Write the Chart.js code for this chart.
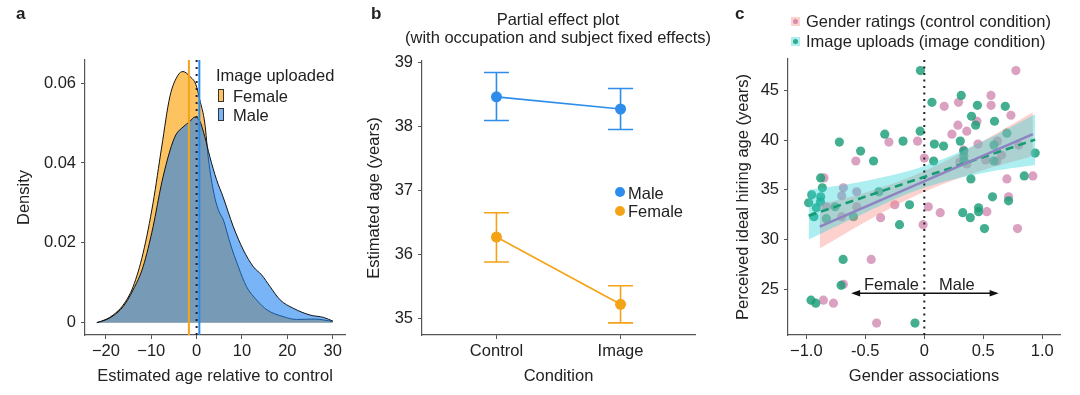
<!DOCTYPE html>
<html>
<head>
<meta charset="utf-8">
<script src="https://cdn.jsdelivr.net/npm/chart.js@4.4.1/dist/chart.umd.min.js"></script>
<style>
  body { margin: 0; background: #fff; }
  #wrap { position: relative; width: 1080px; height: 395px; overflow: hidden;
          font-family: 'Liberation Sans', Arial, Helvetica, sans-serif; color: #222; }
  canvas { position: absolute; top: 0; }
  .t { position: absolute; font-size: 16.5px; line-height: 20px; white-space: nowrap; }
  .panel { position: absolute; font-size: 17px; font-weight: bold; line-height: 20px; }
  .key { position: absolute; box-sizing: border-box; }
  .dot { position: absolute; border-radius: 50%; }
</style>
</head>
<body>
<div id="wrap">
  <canvas id="densityChart" width="360" height="395" style="left:0"></canvas>
  <canvas id="effectChart" width="360" height="395" style="left:360px"></canvas>
  <canvas id="scatterChart" width="360" height="395" style="left:720px"></canvas>

  <div class="panel" style="left:16px;top:4px">a</div>
  <div class="panel" style="left:371px;top:4px">b</div>
  <div class="panel" style="left:735px;top:4px">c</div>

  <!-- panel a legend -->
  <div class="t" style="left:216px;top:65px">Image uploaded</div>
  <div class="key" style="left:218px;top:89px;width:6px;height:13px;background:rgba(252,172,35,0.72);border:1px solid #333"></div>
  <div class="t" style="left:233px;top:86px">Female</div>
  <div class="key" style="left:218px;top:108px;width:6px;height:13px;background:rgba(30,130,240,0.6);border:1px solid #333"></div>
  <div class="t" style="left:233px;top:105px">Male</div>

  <!-- panel b title + legend -->
  <div class="t" style="left:358px;top:9px;width:400px;text-align:center">Partial effect plot</div>
  <div class="t" style="left:358px;top:27px;width:400px;text-align:center">(with occupation and subject fixed effects)</div>
  <div class="dot" style="left:615px;top:187px;width:10px;height:10px;background:#2E8DEB"></div>
  <div class="t" style="left:628px;top:182.5px">Male</div>
  <div class="dot" style="left:615px;top:205.5px;width:10px;height:10px;background:#F5A316"></div>
  <div class="t" style="left:628px;top:201px">Female</div>

  <!-- panel c legend + annotations -->
  <div class="key" style="left:791px;top:17px;width:9px;height:9px;background:rgba(250,140,130,0.4)"></div>
  <div class="dot" style="left:793px;top:19px;width:5px;height:5px;background:rgba(204,121,167,0.8)"></div>
  <div class="t" style="left:806px;top:11px">Gender ratings (control condition)</div>
  <div class="key" style="left:791px;top:37px;width:9px;height:9px;background:rgba(40,210,215,0.38)"></div>
  <div class="dot" style="left:793px;top:39px;width:5px;height:5px;background:rgba(27,158,119,0.85)"></div>
  <div class="t" style="left:806px;top:31px">Image uploads (image condition)</div>
  <div class="t" style="left:864px;top:273.5px">Female</div>
  <div class="t" style="left:939px;top:273.5px">Male</div>
</div>

<script>
// ---------- panel a: density of estimated age relative to control ----------
const femaleDensityX = [-22, -20, -18.4, -16.2, -14, -11.8, -9.6, -7.7, -5.9, -4.1, -3.0, -1.5, -0.15, 0.7, 1.8, 2.6, 3.8, 4.8, 5.9, 7.35, 9.2, 11, 13.2, 15.5, 19.1, 22, 26, 30];
const femaleDensityY = [0, 0.0008, 0.0019, 0.0044, 0.009, 0.0174, 0.030, 0.044, 0.0566, 0.062, 0.0629, 0.0617, 0.0596, 0.0558, 0.050, 0.041, 0.0324, 0.0282, 0.0257, 0.020, 0.014, 0.009, 0.0057, 0.0032, 0.0015, 0.0008, 0.0009, 0.0003];
const maleDensityX = [-22, -20, -18.4, -16.2, -14, -11.8, -9.6, -7.7, -5.9, -4.6, -3.0, -1.5, -0.4, 0.7, 1.8, 2.9, 4.4, 5.8, 8.1, 10.3, 12.5, 14.3, 16.2, 18.4, 21.3, 25, 28, 30];
const maleDensityY = [0, 0.0007, 0.0017, 0.004, 0.0082, 0.014, 0.024, 0.035, 0.043, 0.047, 0.049, 0.0504, 0.0515, 0.0505, 0.0466, 0.0416, 0.0358, 0.0316, 0.024, 0.0182, 0.014, 0.012, 0.009, 0.0057, 0.0036, 0.0019, 0.0013, 0.0004];
const femaleMeanShift = -1.7;
const maleMeanShift = 0.6;
const densityTicksX = [-20, -10, 0, 10, 20, 30];
const densityLabelsX = ['\u221220', '\u221210', '0', '10', '20', '30'];
const densityTicksY = [0, 0.02, 0.04, 0.06];
const densityLabelsY = ['0', '0.02', '0.04', '0.06'];
const densityRangeX = [-24.6, 32.7];
const densityRangeY = [-0.0031, 0.0658];

// ---------- panel b: partial effect plot ----------
const conditionTicks = [1, 2];
const conditions = ['Control', 'Image'];
const maleEstimate = [38.46, 38.27];
const maleLower = [38.09, 37.95];
const maleUpper = [38.84, 38.59];
const femaleEstimate = [36.27, 35.22];
const femaleLower = [35.88, 34.93];
const femaleUpper = [36.65, 35.51];
const ageTicks = [35, 36, 37, 38, 39];
const ageLabels = ['35', '36', '37', '38', '39'];

// ---------- panel c: gender associations vs ideal hiring age ----------
const controlX = [0.776, 0.565, 0.566, 0.29, 0.169, 0.285, 0.36, 0.446, 0.234, 0.734, -0.057, -0.30, -0.58, 0.0, -0.85, -0.686, -0.573, -0.573, -0.70, -0.70, -0.83, -0.25, -0.37, 0.034, -0.01, 0.135, 0.53, 0.79, 0.70, 0.92, 0.714, -0.45, -0.686, -0.855, -0.77, -0.404, 0.333, 0.36, 0.455, 0.52, 0.62, 0.655, 0.80, 0.615, 0.30];
const controlY = [47.0, 44.5, 43.5, 43.8, 43.4, 41.5, 40.9, 41.9, 40.6, 42.5, 39.9, 39.8, 37.9, 38.2, 36.2, 35.2, 34.8, 33.3, 34.4, 32.3, 33.3, 33.5, 32.2, 33.3, 31.5, 32.7, 32.8, 31.1, 36.1, 36.4, 34.3, 28.0, 25.5, 23.9, 23.6, 21.6, 39.0, 37.6, 39.6, 38.0, 39.9, 38.5, 39.5, 37.9, 37.8];
const imageX = [-0.033, -0.72, -0.54, -0.335, -0.43, -0.18, -0.035, -0.878, -0.864, -0.954, -0.98, -0.878, -0.88, -0.915, -0.935, -0.83, -0.756, -0.60, -0.385, -0.125, -0.21, -0.688, -0.705, -0.96, -0.92, -0.079, 0.065, 0.313, 0.45, 0.686, 0.40, 0.435, 0.595, 0.085, 0.163, 0.305, 0.70, 0.335, 0.335, 0.337, 0.079, 0.59, 0.59, 0.395, 0.94, 0.847, 0.578, 0.326, 0.46, 0.46, 0.39, 0.51, 0.714];
const imageY = [47.0, 39.8, 38.9, 40.6, 37.9, 39.9, 40.9, 36.2, 35.2, 34.5, 33.7, 34.3, 33.8, 33.2, 32.3, 32.1, 33.3, 32.3, 34.8, 33.5, 31.5, 28.0, 25.4, 23.9, 23.6, 21.6, 43.8, 44.5, 43.5, 43.4, 42.4, 41.5, 41.9, 39.6, 39.4, 39.9, 40.7, 38.9, 38.4, 37.9, 37.9, 39.5, 37.9, 36.1, 38.7, 36.4, 34.3, 32.7, 33.2, 32.8, 32.2, 31.1, 33.9];
const controlFitX = [-0.886, 0.92];
const controlFitY = [31.3, 40.6];
const imageFitX = [-0.98, 0.94];
const imageFitY = [32.4, 40.05];
const controlBandX = [-0.886, -0.45, 0, 0.45, 0.92];
const controlBandLow = [29.1, 32.1, 34.8, 36.8, 38.4];
const controlBandHigh = [33.5, 34.9, 36.9, 39.6, 42.8];
const imageBandX = [-0.98, -0.5, 0, 0.5, 0.94];
const imageBandLow = [30.0, 32.7, 35.2, 36.7, 37.5];
const imageBandHigh = [35.0, 35.9, 37.4, 39.9, 42.6];
const arrowSpan = [-0.62, 0.63];
const arrowLevel = 24.6;
const genderTicks = [-1, -0.5, 0, 0.5, 1];
const genderLabels = ['\u22121.0', '-0.5', '0', '0.5', '1.0'];
const hiringTicks = [25, 30, 35, 40, 45];
const hiringLabels = ['25', '30', '35', '40', '45'];
const genderRange = [-1.155, 1.15];
const hiringRange = [20.4, 48.16];

Chart.defaults.font.family = "'Liberation Sans', Arial, Helvetica, sans-serif";
Chart.defaults.font.size = 16.5;
Chart.defaults.color = '#222';

const zip = (xs, ys) => xs.map((x, i) => ({ x, y: ys[i] }));
const vline = (x, range) => [{ x, y: range[0] }, { x, y: range[1] }];

// axis with fixed ticks and a fixed thickness so the plot boxes line up with the reference
function axis(range, values, labels, title, titlePadding, thickness, vertical) {
    return {
        type: 'linear',
        min: range[0],
        max: range[1],
        afterBuildTicks: s => { s.ticks = values.map(v => ({ value: v })); },
        afterFit: s => { if (vertical) s.width = thickness; else s.height = thickness; },
        ticks: { callback: (v, i) => labels[i], padding: vertical ? 5 : 3, autoSkip: false, maxRotation: 0, color: '#222' },
        grid: { drawOnChartArea: false, drawTicks: true, tickLength: 4, color: '#555' },
        border: { display: true, color: '#555', width: 1.2 },
        title: { display: true, text: title, padding: titlePadding, color: '#222' }
    };
}

const baseOptions = (padding, scales) => ({
    responsive: false,
    animation: false,
    devicePixelRatio: 1,
    events: [],
    layout: { padding },
    plugins: { legend: { display: false }, tooltip: { enabled: false } },
    scales
});

// ---- a ----
new Chart(document.getElementById('densityChart'), {
    type: 'line',
    data: {
        datasets: [
            { data: vline(0, densityRangeY), borderColor: '#1d2433', borderWidth: 2, borderDash: [2, 5], pointRadius: 0, order: 0 },
            { data: vline(maleMeanShift, densityRangeY), borderColor: '#2B8BEB', borderWidth: 2, pointRadius: 0, order: 0 },
            { data: vline(femaleMeanShift, densityRangeY), borderColor: '#F5A31A', borderWidth: 2, pointRadius: 0, order: 0 },
            {
                data: zip(maleDensityX, maleDensityY), fill: 'origin',
                backgroundColor: 'rgba(30,130,240,0.6)', borderColor: '#111', borderWidth: 1,
                pointRadius: 0, cubicInterpolationMode: 'monotone', order: 1
            },
            {
                data: zip(femaleDensityX, femaleDensityY), fill: 'origin',
                backgroundColor: 'rgba(252,172,35,0.72)', borderColor: '#111', borderWidth: 1,
                pointRadius: 0, cubicInterpolationMode: 'monotone', order: 2
            }
        ]
    },
    options: baseOptions({ top: 60, right: 15, left: 0, bottom: 0 }, {
        x: axis(densityRangeX, densityTicksX, densityLabelsX, 'Estimated age relative to control', { top: 0, bottom: 8.4 }, 60, false),
        y: axis(densityRangeY, densityTicksY, densityLabelsY, 'Density', { top: 15, bottom: 0 }, 85, true)
    })
});

// ---- b ----
const errorBars = {
    id: 'errorBars',
    beforeDatasetsDraw(chart) {
        const { ctx, scales: { x, y } } = chart;
        chart.data.datasets.forEach(ds => {
            ctx.save();
            ctx.strokeStyle = ds.borderColor;
            ctx.lineWidth = 1.6;
            ds.data.forEach((pt, i) => {
                const px = x.getPixelForValue(pt.x);
                const lo = y.getPixelForValue(ds.errLow[i]);
                const hi = y.getPixelForValue(ds.errHigh[i]);
                ctx.beginPath();
                ctx.moveTo(px, lo); ctx.lineTo(px, hi);
                ctx.moveTo(px - 12.5, lo); ctx.lineTo(px + 12.5, lo);
                ctx.moveTo(px - 12.5, hi); ctx.lineTo(px + 12.5, hi);
                ctx.stroke();
            });
            ctx.restore();
        });
    }
};

new Chart(document.getElementById('effectChart'), {
    type: 'line',
    data: {
        datasets: [
            {
                data: zip(conditionTicks, maleEstimate), errLow: maleLower, errHigh: maleUpper,
                borderColor: '#2E8DEB', backgroundColor: '#2E8DEB', borderWidth: 1.6,
                pointRadius: 5.5, pointBorderWidth: 0
            },
            {
                data: zip(conditionTicks, femaleEstimate), errLow: femaleLower, errHigh: femaleUpper,
                borderColor: '#F5A316', backgroundColor: '#F5A316', borderWidth: 1.6,
                pointRadius: 5.5, pointBorderWidth: 0
            }
        ]
    },
    options: baseOptions({ top: 61, right: 25, left: 0, bottom: 0 }, {
        x: axis([0.4, 2.6], conditionTicks, conditions, 'Condition', { top: 0, bottom: 8.4 }, 60, false),
        y: axis([34.74, 39.02], ageTicks, ageLabels, 'Estimated age (years)', { top: 5, bottom: 0 }, 62, true)
    }),
    plugins: [errorBars]
});

// ---- c ----
const genderArrow = {
    id: 'genderArrow',
    afterDatasetsDraw(chart) {
        const { ctx, scales: { x, y } } = chart;
        const x0 = x.getPixelForValue(arrowSpan[0]);
        const x1 = x.getPixelForValue(arrowSpan[1]);
        const py = y.getPixelForValue(arrowLevel);
        ctx.save();
        ctx.strokeStyle = '#111';
        ctx.fillStyle = '#111';
        ctx.lineWidth = 1.3;
        ctx.beginPath();
        ctx.moveTo(x0 + 3, py); ctx.lineTo(x1 - 3, py);
        ctx.stroke();
        [[x0, 1], [x1, -1]].forEach(([tip, dir]) => {
            ctx.beginPath();
            ctx.moveTo(tip, py);
            ctx.lineTo(tip + dir * 9, py - 3.2);
            ctx.lineTo(tip + dir * 9, py + 3.2);
            ctx.closePath();
            ctx.fill();
        });
        ctx.restore();
    }
};

new Chart(document.getElementById('scatterChart'), {
    type: 'line',
    data: {
        datasets: [
            { data: zip(controlFitX, controlFitY), borderColor: '#8E84C2', borderWidth: 2.6, pointRadius: 0, order: 0 },
            { data: zip(imageFitX, imageFitY), borderColor: '#169C74', borderWidth: 2.6, borderDash: [8, 5], pointRadius: 0, order: 0 },
            { data: vline(0, hiringRange), borderColor: '#222', borderWidth: 2, borderDash: [2, 4.5], pointRadius: 0, order: 0 },
            { data: zip(imageBandX, imageBandLow), borderWidth: 0, pointRadius: 0, tension: 0.4, order: 1 },
            {
                data: zip(imageBandX, imageBandHigh), borderWidth: 0, pointRadius: 0, tension: 0.4,
                fill: '-1', backgroundColor: 'rgba(40,210,215,0.38)', order: 1
            },
            { data: zip(controlBandX, controlBandLow), borderWidth: 0, pointRadius: 0, tension: 0.4, order: 2 },
            {
                data: zip(controlBandX, controlBandHigh), borderWidth: 0, pointRadius: 0, tension: 0.4,
                fill: '-1', backgroundColor: 'rgba(250,140,130,0.4)', order: 2
            },
            {
                data: zip(imageX, imageY), showLine: false, pointRadius: 4.6, pointBorderWidth: 0,
                pointBackgroundColor: 'rgba(27,158,119,0.82)', order: 3
            },
            {
                data: zip(controlX, controlY), showLine: false, pointRadius: 4.6, pointBorderWidth: 0,
                pointBackgroundColor: 'rgba(204,121,167,0.7)', order: 4
            }
        ]
    },
    options: baseOptions({ top: 59, right: 20, left: 0, bottom: 0 }, {
        x: axis(genderRange, genderTicks, genderLabels, 'Gender associations', { top: 0, bottom: 8.4 }, 60, false),
        y: axis(hiringRange, hiringTicks, hiringLabels, 'Perceived ideal hiring age (years)', { top: 13.4, bottom: 0 }, 68, true)
    }),
    plugins: [genderArrow]
});
</script>
</body>
</html>
